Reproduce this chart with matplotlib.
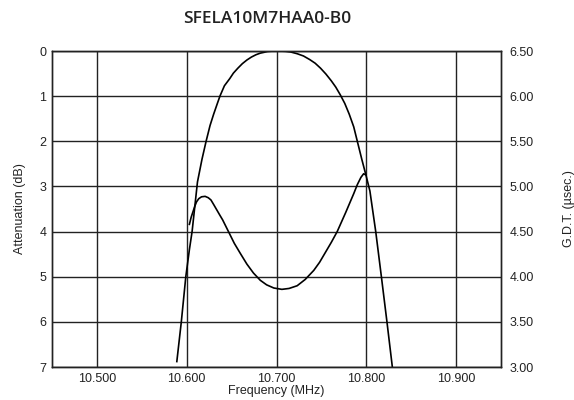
import matplotlib
matplotlib.use("Agg")
import matplotlib.pyplot as plt

# ---------------------------------------------------------------------------
# Data
# ---------------------------------------------------------------------------
att_freq = [10.589, 10.594, 10.599, 10.603, 10.606, 10.609, 10.612, 10.617,
            10.6216, 10.626, 10.630, 10.634, 10.637, 10.642, 10.648, 10.652,
            10.657, 10.662, 10.667, 10.672, 10.677, 10.682, 10.686, 10.690,
            10.695, 10.700, 10.705, 10.710, 10.716, 10.723, 10.730, 10.737,
            10.743, 10.749, 10.755, 10.761, 10.766, 10.771, 10.776, 10.781,
            10.786, 10.790, 10.795, 10.800, 10.804, 10.8105, 10.8168, 10.823,
            10.829]
att_db = [6.88, 6.0, 5.0, 4.4, 4.0, 3.45, 2.9, 2.4,
          2.0, 1.65, 1.40, 1.17, 1.0, 0.77, 0.61, 0.49,
          0.38, 0.28, 0.2, 0.135, 0.084, 0.047, 0.03, 0.011,
          0.003, 0.0, 0.002, 0.007, 0.023, 0.06, 0.11, 0.19,
          0.27, 0.38, 0.51, 0.66, 0.80, 0.97, 1.16, 1.40,
          1.68, 2.0, 2.4, 2.78, 3.1, 4.0, 5.0, 6.0,
          7.0]

gdt_freq = [10.603, 10.605, 10.607, 10.609, 10.611, 10.6135, 10.6165, 10.6205,
            10.624, 10.627, 10.630, 10.6335, 10.637, 10.640, 10.6465, 10.653,
            10.6596, 10.667, 10.6744, 10.682, 10.689, 10.697, 10.706, 10.714,
            10.723, 10.732, 10.7415, 10.748, 10.7545, 10.761, 10.7676, 10.777,
            10.786, 10.790, 10.794, 10.797, 10.799]
gdt_us = [4.58, 4.66, 4.72, 4.78, 4.83, 4.865, 4.885, 4.89,
          4.875, 4.85, 4.80, 4.74, 4.68, 4.63, 4.50, 4.37,
          4.26, 4.14, 4.04, 3.96, 3.91, 3.875, 3.86, 3.87,
          3.90, 3.97, 4.07, 4.16, 4.27, 4.38, 4.50, 4.71,
          4.92, 5.02, 5.10, 5.14, 5.13]

x_ticks = [10.5, 10.6, 10.7, 10.8, 10.9]
x_labels = ["10.500", "10.600", "10.700", "10.800", "10.900"]
att_ticks = [0, 1, 2, 3, 4, 5, 6, 7]
gdt_ticks = [3.0, 3.5, 4.0, 4.5, 5.0, 5.5, 6.0, 6.5]
gdt_labels = ["3.00", "3.50", "4.00", "4.50", "5.00", "5.50", "6.00", "6.50"]

plt.rcParams["font.family"] = ["Liberation Sans", "DejaVu Sans"]

fig = plt.figure(figsize=(5.74, 4.0), dpi=100)
ax = fig.add_axes([52 / 574, 1 - 367 / 400, (501 - 52) / 574, (367 - 51) / 400])
ax2 = ax.twinx()

ax.set_xlim(10.45, 10.95)
ax.set_ylim(7, 0)
ax2.set_ylim(3.0, 6.5)

ax.set_xticks(x_ticks)
ax.set_xticklabels(x_labels)
ax.set_yticks(att_ticks)
ax2.set_yticks(gdt_ticks)
ax2.set_yticklabels(gdt_labels)

ax.grid(True, color="#222222", linewidth=1.0)
ax.set_axisbelow(True)

ax.plot(att_freq, att_db, color="black", linewidth=1.2)
ax2.plot(gdt_freq, gdt_us, color="black", linewidth=1.2)

ax.tick_params(axis="both", length=0, labelsize=9, colors="#222222")
ax.tick_params(axis="y", pad=4)
ax.tick_params(axis="x", pad=4)
ax2.tick_params(axis="y", length=0, labelsize=9, pad=6, colors="#222222")

for a in (ax, ax2):
    for s in a.spines.values():
        s.set_color("#222222")
        s.set_linewidth(1.0)

ax.set_xlabel("Frequency (MHz)", fontsize=9, labelpad=0, color="#222222")
ax.set_ylabel("Attenuation (dB)", fontsize=9, labelpad=10, color="#222222")
ax2.set_ylabel("G.D.T. (\u00b5sec.)", fontsize=9, labelpad=21, color="#222222")

fig.text(267 / 574, 1 - 19 / 400, "SFELA10M7HAA0-B0", ha="center", va="center",
         fontsize=12.5, fontweight="semibold", family="Open Sans", color="#222222")

fig.savefig("out.png", dpi=100)
